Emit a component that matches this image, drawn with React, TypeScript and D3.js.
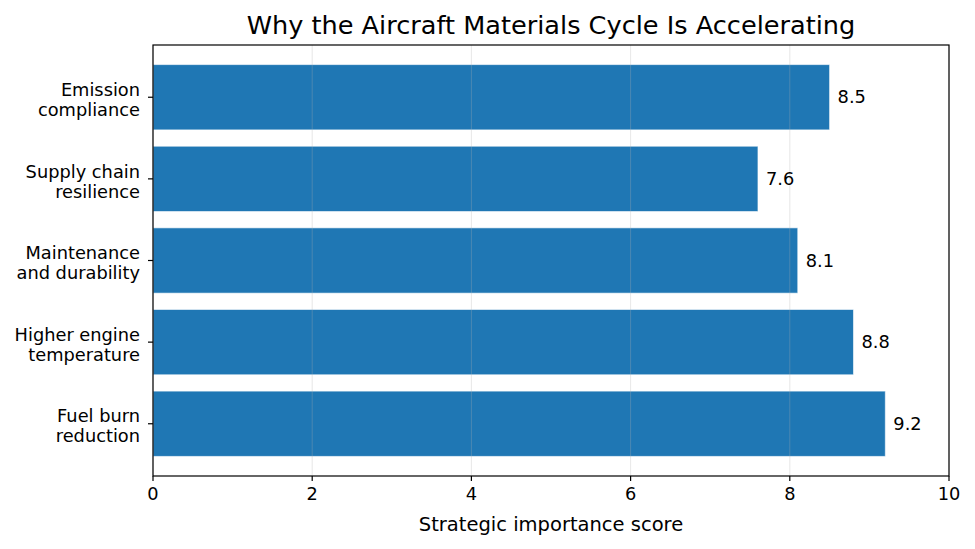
import React from "react";
import * as d3 from "d3";

const categories = [
  "Fuel burn\nreduction",
  "Higher engine\ntemperature",
  "Maintenance\nand durability",
  "Supply chain\nresilience",
  "Emission\ncompliance",
];
const values = [9.2, 8.8, 8.1, 7.6, 8.5];
const xTicks = [0, 2, 4, 6, 8, 10];
const title = "Why the Aircraft Materials Cycle Is Accelerating";
const xLabel = "Strategic importance score";

const W = 975;
const H = 549;
const M = { left: 153, right: 949, top: 45, bottom: 476 };
const FONT = "DejaVu Sans, sans-serif";
const FS = 17.8;

export default function App() {
  const x = d3.scaleLinear().domain([0, 10]).range([M.left, M.right]);
  const n = categories.length;
  const pad = 0.05 * (n - 1 + 0.8);
  const y = d3
    .scaleLinear()
    .domain([-0.4 - pad, n - 1 + 0.4 + pad])
    .range([M.bottom, M.top]);
  const bh = y(0) - y(0.8);

  return (
    <svg width={W} height={H} style={{ position: "absolute", left: 0, top: 0, background: "#fff" }} fontFamily={FONT}>
      <rect x={0} y={0} width={W} height={H} fill="#fff" />
      {values.map((v, i) => (
        <rect
          key={i}
          x={x(0)}
          y={y(i + 0.4)}
          width={x(v) - x(0)}
          height={bh}
          fill="#1f77b4"
          stroke="#ffffff"
          strokeOpacity={0.6}
          strokeWidth={1}
        />
      ))}
      {xTicks.map((t) => (
        <line key={"g" + t} x1={x(t)} x2={x(t)} y1={M.top} y2={M.bottom} stroke="#b0b0b0" strokeOpacity={0.3} strokeWidth={1} />
      ))}
      {values.map((v, i) => (
        <text key={"v" + i} x={x(v) + 8} y={y(i)} dy="0.35em" fontSize={FS} fill="#000">
          {v.toFixed(1)}
        </text>
      ))}
      <rect x={M.left} y={M.top} width={M.right - M.left} height={M.bottom - M.top} fill="none" stroke="#000" strokeWidth={1.2} />
      {xTicks.map((t) => (
        <g key={"t" + t}>
          <line x1={x(t)} x2={x(t)} y1={M.bottom} y2={M.bottom + 5} stroke="#000" strokeWidth={1.2} />
          <text x={x(t)} y={M.bottom + 24} textAnchor="middle" fontSize={FS}>
            {t}
          </text>
        </g>
      ))}
      {categories.map((c, i) => {
        const lines = c.split("\n");
        return (
          <g key={"c" + i}>
            <line x1={M.left - 5} x2={M.left} y1={y(i)} y2={y(i)} stroke="#000" strokeWidth={1.2} />
            {lines.map((l, j) => (
              <text
                key={j}
                x={M.left - 13}
                y={y(i) + (j - (lines.length - 1) / 2) * 20 + 8.7}
                textAnchor="end"
                fontSize={FS}
              >
                {l}
              </text>
            ))}
          </g>
        );
      })}
      <text x={(M.left + M.right) / 2} y={531} textAnchor="middle" fontSize={19.5}>
        {xLabel}
      </text>
      <text x={(M.left + M.right) / 2} y={33.5} textAnchor="middle" fontSize={25.6}>
        {title}
      </text>
    </svg>
  );
}
